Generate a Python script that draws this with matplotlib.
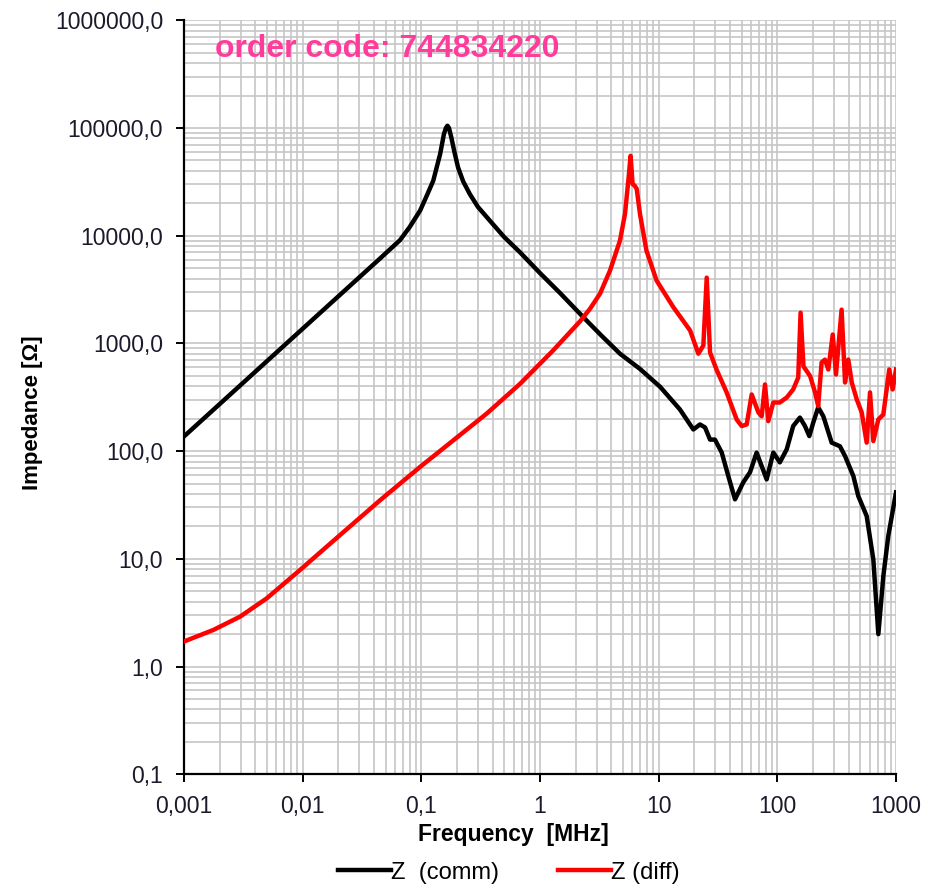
import numpy as np
import matplotlib.pyplot as plt
from matplotlib.ticker import FixedLocator, LogLocator, NullFormatter

plt.rcParams['font.family'] = ['Liberation Sans', 'DejaVu Sans']

# Z (comm) - Frequenz [MHz] / Impedanz [Ohm]
f_comm = [0.001, 0.003, 0.01, 0.03, 0.0449, 0.0661, 0.08, 0.0976, 0.112, 0.126,
          0.144, 0.155, 0.161, 0.166, 0.171, 0.179, 0.19, 0.204, 0.225, 0.256,
          0.3, 0.378, 0.5, 0.68, 1.0, 1.47, 2.32, 3.3, 4.72, 6.96, 10.3,
          15.1, 19.6, 22.3, 24.6, 27.1, 29.8, 34.0, 38.6, 44.0, 51.6, 58.8,
          66.9, 73.8, 81.3, 92.4, 105, 120, 136, 155, 171, 186, 201, 221,
          244, 287, 337, 372, 437, 481, 566, 644, 710, 782, 861, 1000]
z_comm = [137, 411, 1370, 4110, 6150, 9100, 12100, 17100, 24000, 32400,
          57300, 87800, 100000, 105000, 100000, 81700, 60000, 43000, 32000, 24400,
          18500, 13800, 9700, 7000, 4500, 2950, 1750, 1180, 803, 580, 395,
          244, 159, 177, 166, 128, 128, 97, 58.8, 35.7, 51.3, 63.5,
          97, 72.6, 54.7, 97, 78.7, 104, 171, 205, 171, 138, 185, 255,
          211, 120, 111, 90, 58.8, 38.3, 25.0, 9.9, 2.0, 6.9, 16.3, 41.4]

# Z (diff)
f_diff = [0.001, 0.00177, 0.00297, 0.00498, 0.00949, 0.0206, 0.0449, 0.0976,
          0.186, 0.355, 0.681, 1.29, 2.17, 2.64, 3.2, 3.89, 4.72, 5.2, 5.55,
          5.8, 6.03, 6.3, 6.53, 6.96, 7.89, 9.6, 13.3, 18.4, 21.6, 23.8, 25.4,
          27.1, 30.7, 37.4, 45.4, 50.1, 55.2, 60.8, 69.2, 73.8, 78.7, 83.9,
          92.4, 105, 120, 136, 150, 157, 166, 189, 208, 221, 236, 252, 269,
          293, 312, 348, 372, 396, 424, 467, 514, 566, 604, 644, 710, 782,
          877, 937, 1000]
z_diff = [1.71, 2.19, 2.91, 4.3, 7.88, 16.6, 35.0, 71.4,
          126, 223, 423, 861, 1600, 2100, 2890, 4750, 9010, 15900, 32400,
          55200, 30200, 29000, 27200, 15900, 7280, 3840, 2170, 1320, 803, 958, 4080,
          824, 573, 351, 197, 171, 177, 336, 229, 211, 416, 190,
          283, 283, 315, 374, 483, 1930, 614, 497, 351, 262, 665, 708, 573,
          1210, 515, 2060, 434, 708, 434, 302, 229, 120, 351, 124, 197, 219,
          573, 374, 573]

y_ticks = [0.1, 1, 10, 100, 1000, 10000, 100000, 1000000]
y_labels = ['0,1', '1,0', '10,0', '100,0', '1000,0', '10000,0', '100000,0', '1000000,0']
x_ticks = [0.001, 0.01, 0.1, 1, 10, 100, 1000]
x_labels = ['0,001', '0,01', '0,1', '1', '10', '100', '1000']

fig = plt.figure(figsize=(9.25, 8.85), dpi=100)
ax = fig.add_axes([184 / 925, 1 - 774.3 / 885, 712 / 925, 754 / 885])

ax.plot(f_comm, z_comm, color='black', lw=3.2, label='Z  (comm)', zorder=3,
        solid_joinstyle='round')
ax.plot(f_diff, z_diff, color='#ff0000', lw=3.2, label='Z (diff)', zorder=3,
        solid_joinstyle='round')

ax.set_xscale('log')
ax.set_yscale('log')
ax.set_xlim(0.001, 1000)
ax.set_ylim(0.1, 1000000)

ax.xaxis.set_major_locator(FixedLocator(x_ticks))
ax.set_xticklabels(x_labels)
ax.yaxis.set_major_locator(FixedLocator(y_ticks))
ax.set_yticklabels(y_labels)
for a in (ax.xaxis, ax.yaxis):
    a.set_minor_locator(LogLocator(base=10, subs=np.arange(2, 10), numticks=20))
    a.set_minor_formatter(NullFormatter())

ax.grid(True, which='both', color='#c6c6c6', lw=1.2, zorder=0)
ax.tick_params(which='major', direction='out', length=6, width=1.4,
               labelsize=16.5, pad=9, colors='black', labelcolor='#1a1a2a')
ax.tick_params(which='minor', length=0)

for s in ('top', 'right'):
    ax.spines[s].set_visible(False)
for s in ('left', 'bottom'):
    ax.spines[s].set_linewidth(1.6)

ax.set_xlabel('Frequency  [MHz]', fontsize=16.5, fontweight='bold')
ax.xaxis.set_label_coords(0.462, -0.0646)
ax.set_ylabel('Impedance [Ω]', fontsize=16, fontweight='bold')
ax.yaxis.set_label_coords(-0.198, 0.48)

ax.text(0.0435, 0.962, 'order code: 744834220', transform=ax.transAxes,
        fontsize=23, fontweight='bold', color='#ff3c9b', va='center', ha='left')

fig.legend(loc='center', bbox_to_anchor=(0.55, 0.014), ncol=2, frameon=False,
           fontsize=17, handlelength=2.25, handletextpad=0.0, columnspacing=2.5)

plt.savefig('out.png', dpi=100)
